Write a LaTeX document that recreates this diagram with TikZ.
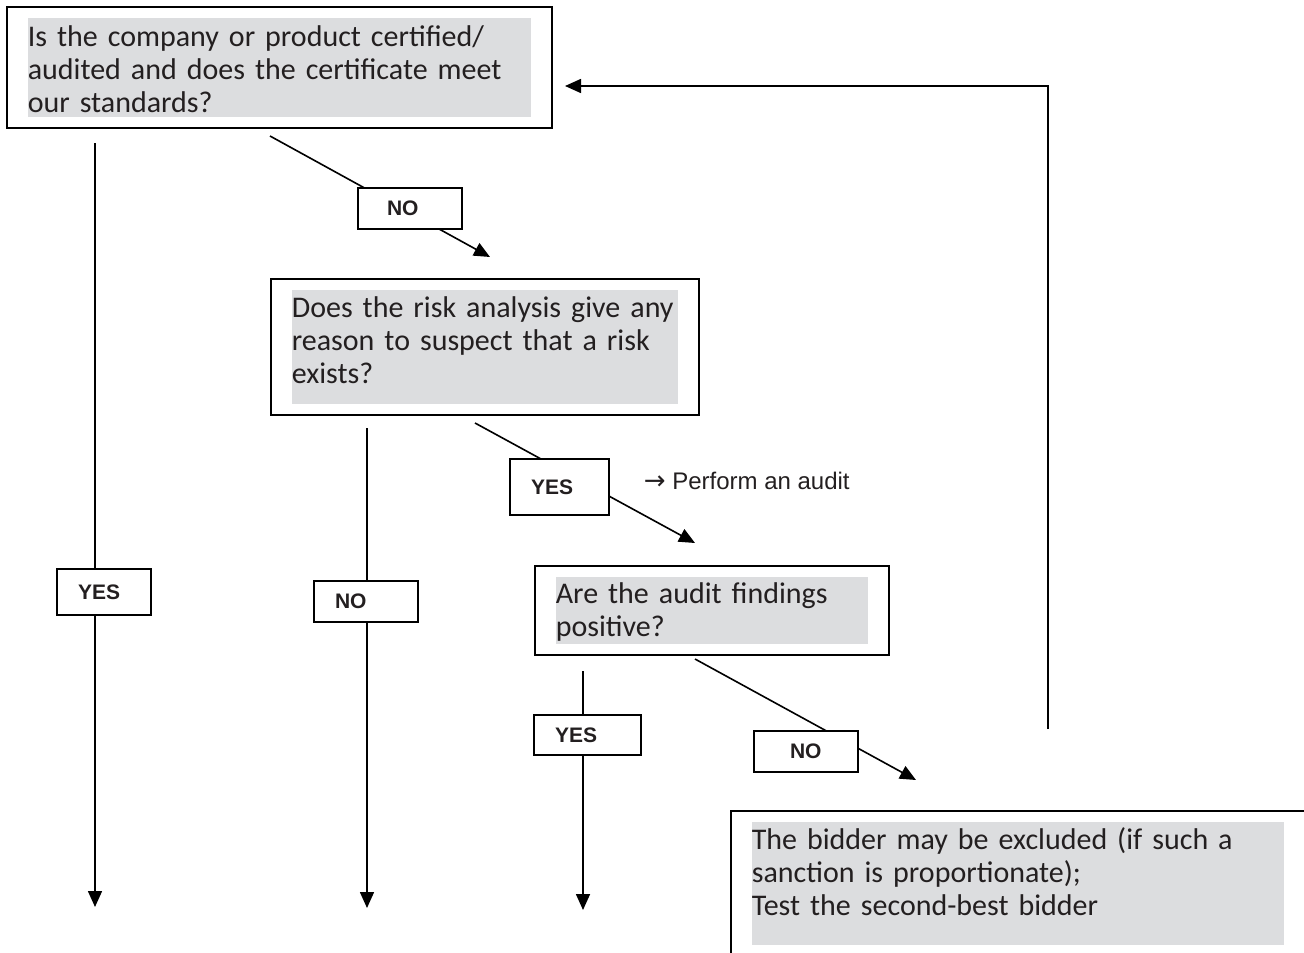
\documentclass[tikz,border=0pt]{standalone}
\usepackage{fontspec}
\setmainfont{Carlito}[WordSpace=0.8]
\newfontfamily\tagfont{Liberation Sans}
\newfontfamily\arrowfont{DejaVu Sans}
\usepackage{xcolor}
\usetikzlibrary{arrows.meta,fit}
\definecolor{shade}{RGB}{220,221,223}
\definecolor{ink}{RGB}{35,31,32}

\begin{document}
\begin{tikzpicture}[x=1pt, y=-1pt, line width=1.6pt, >={Triangle[length=16pt, width=14pt]}]
\tikzstyle{question}=[fill=shade, anchor=north west, inner sep=0pt, align=left, text=ink, font=\fontsize{30}{33}\selectfont]
\tikzstyle{frame}=[draw, line width=2pt, inner xsep=20pt, inner ysep=10.5pt]
\tikzstyle{tag}=[draw, fill=white, line width=2pt, inner ysep=0pt, inner xsep=21pt, align=left, text=ink, font=\tagfont\bfseries\fontsize{21}{24}\selectfont]
\useasboundingbox (0,0) rectangle (1304,953);

% questions and the final action
\node[question, text width=503pt, text height=29pt, text depth=70pt] (q1) at (27,17)
  {Is the company or product certified/\\audited and does the certificate meet\\our standards?};
\node[question, text width=386pt, text height=28pt, text depth=86pt] (q2) at (291,289)
  {Does the risk analysis give any\\reason to suspect that a risk\\exists?};
\node[question, text width=312pt, text height=27pt, text depth=40pt] (q3) at (555,576)
  {Are the audit findings\\positive?};
\node[question, text width=532pt, text height=28pt, text depth=95pt] (act) at (751,821)
  {The bidder may be excluded (if such a\\sanction is proportionate);\\Test the second-best bidder};

\node[frame, fit=(q1)] (f1) {};
\node[frame, fit=(q2)] (f2) {};
\node[frame, fit=(q3)] (f3) {};
\node[frame, fit=(act)] (f4) {};

% ends of the connectors
\coordinate (a1) at (95,143);   \coordinate (a1e) at (95,907);
\coordinate (b1) at (270,136);  \coordinate (b1e) at (490,257);
\coordinate (c1) at (367,428);  \coordinate (c1e) at (367,908);
\coordinate (d1) at (475,423);  \coordinate (d1e) at (695,543);
\coordinate (e1) at (583,671);  \coordinate (e1e) at (583,910);
\coordinate (g1) at (695,659);  \coordinate (g1e) at (916,780);
\coordinate (h1) at (1048,729); \coordinate (h1e) at (565,86);

\path
(a1) edge[->] (a1e)
(b1) edge[->] (b1e)
(c1) edge[->] (c1e)
(d1) edge[->] (d1e)
(e1) edge[->] (e1e)
(g1) edge[->] (g1e)
(h1) edge[->, to path={|- (\tikztotarget)}] (h1e);

% answers
\node[tag, text width=52pt, minimum height=46pt] (yes1) at (104,592) {YES};
\node[tag, text width=46pt, minimum height=41pt, inner xsep=29pt] (no1) at (410,208.5) {NO};
\node[tag, text width=62pt, minimum height=41pt] (no2) at (366,601.5) {NO};
\node[tag, text width=57pt, minimum height=56pt] (yes2) at (559.5,487) {YES};
\node[tag, text width=65pt, minimum height=40pt] (yes3) at (587.5,735) {YES};
\node[tag, text width=32pt, minimum height=41pt, inner xsep=36pt] (no3) at (806,751.5) {NO};

\node[anchor=base west, inner sep=0pt, text=ink, font=\tagfont\fontsize{24}{28}\selectfont] (audit) at (643,489)
  {{\arrowfont\fontsize{26}{28}\selectfont →} Perform an audit};

\end{tikzpicture}
\end{document}
